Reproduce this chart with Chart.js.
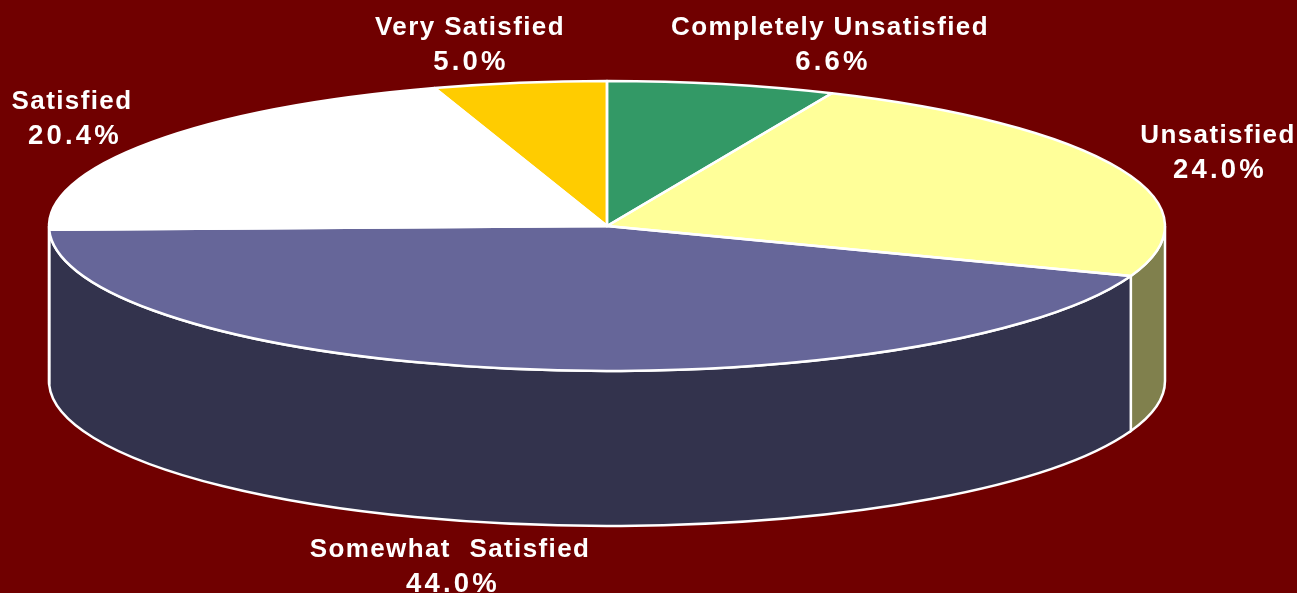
<!DOCTYPE html>
<html>
<head>
<meta charset="utf-8">
<script src="https://cdn.jsdelivr.net/npm/chart.js@4"></script>
<style>
html,body{margin:0;padding:0;background:#700000;overflow:hidden}
canvas{display:block}
</style>
</head>
<body>
<canvas id="c" width="1297" height="593"></canvas>
<script>
const categories = ["Completely Unsatisfied","Unsatisfied","Somewhat Satisfied","Satisfied","Very Satisfied"];
const values = [6.6,24.0,44.0,20.4,5.0];
const topColors = ["#339966","#FFFF99","#666699","#FFFFFF","#FFCC00"];
const sideColors = ["#1A4D33","#80804D","#33334D","#808080","#806600"];

const geometry = {cx:607, cy:226, rx:558, ry:145, depth:155};
const labelSpots = [
  {x:830, px:833, y:[35,70], word:0},
  {x:1218, px:1220, y:[143,178], word:0},
  {x:450, px:453, y:[557,592], word:10},
  {x:72, px:75, y:[109,144], word:0},
  {x:470, px:471, y:[35,70], word:0}
];

const pie3d = {
  id:'pie3d',
  beforeDatasetsDraw(chart){
    const {ctx} = chart, g = geometry, arcs = chart.getDatasetMeta(0).data;
    ctx.save();
    arcs.forEach((arc,i)=>{
      const a = Math.max(arc.startAngle,0), b = Math.min(arc.endAngle,Math.PI);
      if(b<=a) return;
      ctx.beginPath();
      ctx.ellipse(g.cx,g.cy,g.rx,g.ry,0,a,b);
      ctx.lineTo(g.cx+g.rx*Math.cos(b),g.cy+g.ry*Math.sin(b)+g.depth);
      ctx.ellipse(g.cx,g.cy+g.depth,g.rx,g.ry,0,b,a,true);
      ctx.closePath();
      ctx.fillStyle = sideColors[i];
      ctx.fill();
      ctx.strokeStyle = '#fff';
      ctx.lineWidth = 2.5;
      ctx.stroke();
    });
    ctx.restore();
    const arc = arcs[0], R = arc.outerRadius;
    ctx.save();
    ctx.translate(g.cx,g.cy);
    ctx.scale(g.rx/R,g.ry/R);
    ctx.translate(-arc.x,-arc.y);
  },
  afterDatasetsDraw(chart){
    const {ctx} = chart, g = geometry, arcs = chart.getDatasetMeta(0).data;
    ctx.restore();
    ctx.save();
    ctx.strokeStyle = '#fff';
    ctx.lineWidth = 2.5;
    ctx.lineJoin = 'round';
    arcs.forEach((arc)=>{
      ctx.beginPath();
      ctx.moveTo(g.cx,g.cy);
      ctx.ellipse(g.cx,g.cy,g.rx,g.ry,0,arc.startAngle,arc.endAngle);
      ctx.closePath();
      ctx.stroke();
    });
    ctx.fillStyle = '#fff';
    ctx.textBaseline = 'alphabetic';
    ctx.textAlign = 'center';
    categories.forEach((name,i)=>{
      const s = labelSpots[i];
      ctx.font = 'bold 26px "Liberation Sans"';
      ctx.letterSpacing = '1.38px';
      ctx.wordSpacing = s.word+'px';
      ctx.fillText(name,s.x,s.y[0]);
      ctx.font = 'bold 27.5px "Liberation Sans"';
      ctx.letterSpacing = '3.2px';
      ctx.wordSpacing = '0px';
      ctx.fillText(values[i].toFixed(1)+'%',s.px,s.y[1]);
    });
    ctx.restore();
  }
};

new Chart(document.getElementById('c'),{
  type:'pie',
  data:{labels:categories,datasets:[{data:values,backgroundColor:topColors,borderWidth:0}]},
  options:{
    responsive:false,
    animation:false,
    layout:{padding:0},
    plugins:{legend:{display:false},tooltip:{enabled:false},title:{display:false}}
  },
  plugins:[pie3d]
});
</script>
</body>
</html>
